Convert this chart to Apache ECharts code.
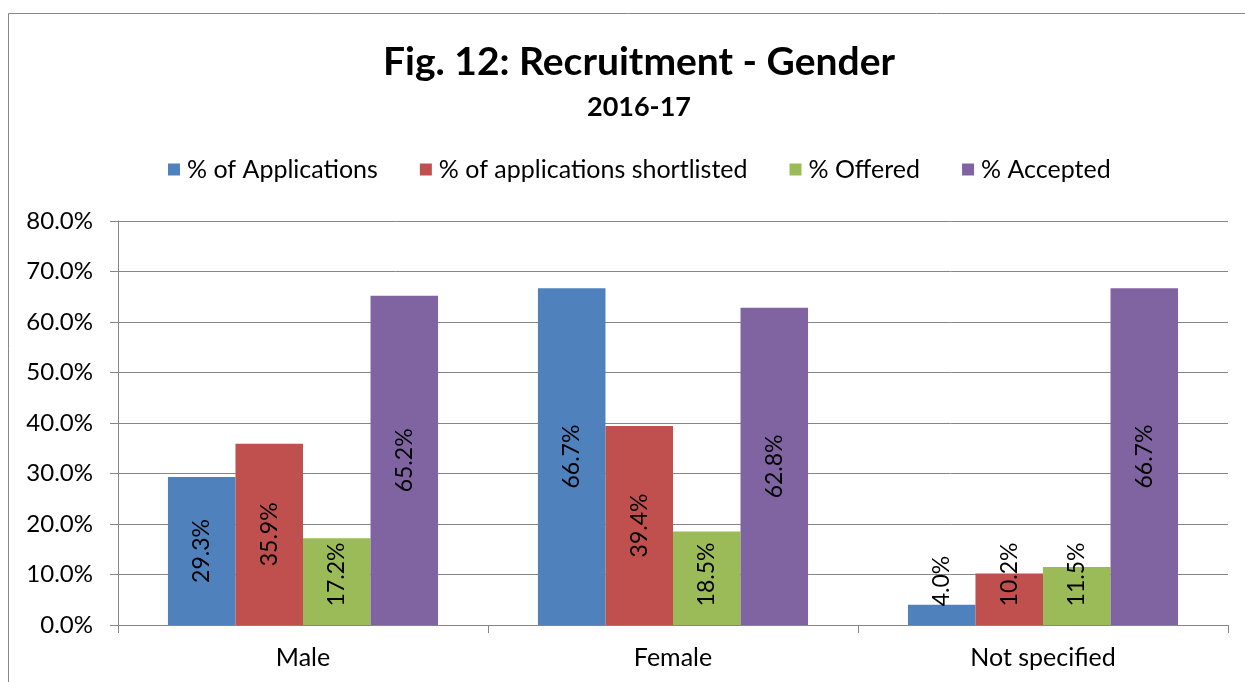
<!DOCTYPE html>
<html>
<head>
<meta charset="utf-8">
<script src="https://cdn.jsdelivr.net/npm/echarts@6/dist/echarts.min.js"></script>
<style>
  html, body { margin: 0; padding: 0; background: #fff; }
  #chart { width: 1245px; height: 682px; }
</style>
</head>
<body>
<div id="chart"></div>
<script>
// data
var categories = ['Male', 'Female', 'Not specified'];
var seriesNames = ['% of Applications', '% of applications shortlisted', '% Offered', '% Accepted'];
var applications = [29.3, 66.7, 4.0];
var shortlisted = [35.9, 39.4, 10.2];
var offered = [17.2, 18.5, 11.5];
var accepted = [65.2, 62.8, 66.7];

var colors = ['#4f81bd', '#c0504d', '#9bbb59', '#8064a2'];
var font = 'Lato, "Open Sans", sans-serif';

function fmt(v) { return v.toFixed(1) + '%'; }

function makeSeries(name, values) {
    return {
        name: name,
        type: 'bar',
        barGap: 0,
        barCategoryGap: '27%',
        // short bars: push the label up so it stays above the axis, like Excel does
        // (label is rotated 90deg, so its local x points up on screen)
        data: values.map(function (v) {
            var half = fmt(v).length * 6.5;
            var lift = Math.max(0, 18 + half - 2.525 * v);
            return { value: v, label: { offset: [lift, 0] } };
        }),
        label: {
            show: true,
            position: 'inside',
            rotate: 90,
            color: '#000',
            fontFamily: font,
            fontSize: 23,
            formatter: function (p) { return fmt(p.value); }
        }
    };
}

var option = {
    color: colors,
    animation: false,
    textStyle: { fontFamily: font },
    // chart frame runs past the right edge, so title/legend sit a bit right of centre
    title: {
        text: 'Fig. 12: Recruitment - Gender',
        subtext: '2016-17',
        left: 634,
        textAlign: 'center',
        top: 38,
        itemGap: 12,
        textStyle: { fontSize: 39, fontWeight: 'bold', color: '#000', fontFamily: font },
        subtextStyle: { fontSize: 27, fontWeight: 'bold', color: '#000', fontFamily: font }
    },
    legend: {
        data: seriesNames,
        top: 152,
        left: 163,
        itemWidth: 12,
        itemHeight: 12,
        itemGap: 42,
        icon: 'rect',
        textStyle: { fontSize: 25, color: '#000', fontFamily: font, padding: [0, 0, 0, 2] }
    },
    grid: {
        left: 118,
        right: 17,
        top: 221,
        bottom: 57,
        containLabel: false
    },
    xAxis: {
        type: 'category',
        data: categories,
        axisLine: { lineStyle: { color: '#868686', width: 1 } },
        axisTick: { show: true, length: 8, lineStyle: { color: '#868686' } },
        axisLabel: { fontSize: 25, color: '#000', margin: 20, fontFamily: font }
    },
    yAxis: {
        type: 'value',
        min: 0,
        max: 80,
        interval: 10,
        axisLine: { show: true, lineStyle: { color: '#868686', width: 1 } },
        axisTick: { show: true, length: 8, lineStyle: { color: '#868686' } },
        splitLine: { lineStyle: { color: '#868686', width: 1 } },
        axisLabel: {
            fontSize: 24,
            color: '#000',
            margin: 25,
            fontFamily: font,
            formatter: function (v) { return fmt(v); }
        }
    },
    graphic: [{
        type: 'rect',
        shape: { x: 8.5, y: 13.5, width: 1300, height: 800 },
        style: { fill: 'none', stroke: '#868686', lineWidth: 1 },
        silent: true,
        z: -1
    }],
    series: [
        makeSeries(seriesNames[0], applications),
        makeSeries(seriesNames[1], shortlisted),
        makeSeries(seriesNames[2], offered),
        makeSeries(seriesNames[3], accepted)
    ]
};

var chart = echarts.init(document.getElementById('chart'));
chart.setOption(option);
</script>
</body>
</html>
